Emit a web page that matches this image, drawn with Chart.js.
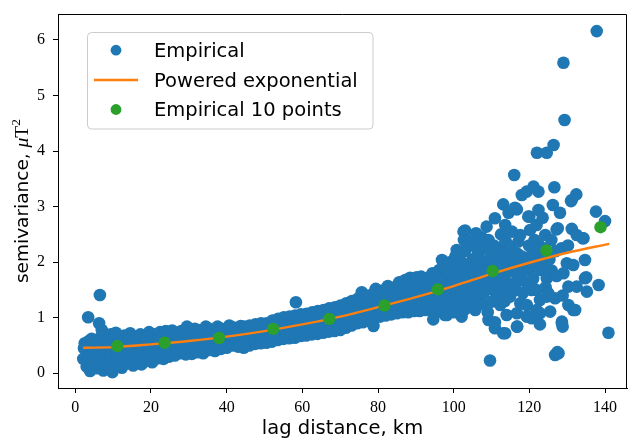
<!DOCTYPE html>
<html>
<head>
<meta charset="utf-8">
<script src="https://cdn.jsdelivr.net/npm/chart.js@4.4.1/dist/chart.umd.min.js"></script>
<style>
  html, body { margin: 0; padding: 0; background: #fff; }
  canvas { display: block; }
</style>
</head>
<body>
<canvas id="variogram" width="628" height="442"></canvas>
<script>
'use strict';
// matplotlib default colours
var cBlue = '#1f77b4';
var cOrange = '#ff7f0e';
var cGreen = '#2ca02c';

// tick labels
var xTickValues = [0, 20, 40, 60, 80, 100, 120, 140];
var yTickValues = [0, 1, 2, 3, 4, 5, 6];

// empirical semivariogram cloud, [lag km, semivariance]
var empirical = [
  [2.1,0.26],[2.3,0.45],[2.5,0.54],
  [3.0,0.12],[3.4,1.01],[3.2,0.35],[3.6,0.58],[3.9,0.04],[3.5,0.48],
  [4.4,0.2],[4.6,0.38],[4.8,0.55],[4.3,0.62],[5.0,0.1],
  [5.6,0.09],[5.9,0.3],[6.1,0.47],[6.3,0.9],[6.5,1.41],[6.2,0.62],[5.8,0.2],
  [7.0,0.78],[7.4,0.05],[7.6,0.25],[7.8,0.42],[7.5,0.58],[7.9,0.68],
  [8.8,0.12],[9.2,0.32],[9.0,0.5],[9.4,0.7],[9.8,0.02],[9.6,0.6],
  [10.6,0.15],[10.9,0.28],[11.2,0.42],[11.0,0.62],[10.7,0.73],[11.4,0.55],
  [12.3,0.1],[12.6,0.22],[12.8,0.38],[12.4,0.5],[12.9,0.68],[13.2,0.6],
  [13.8,0.18],[14.1,0.3],[14.3,0.45],[14.0,0.58],[14.5,0.72],
  [15.3,0.14],[15.6,0.26],[15.8,0.4],[15.4,0.55],[15.9,0.66],
  [17.0,0.18],[17.5,0.16],[17.3,0.32],[17.1,0.48],[17.6,0.6],[17.2,0.7],
  [18.7,0.22],[19.0,0.36],[19.3,0.5],[18.9,0.64],[19.5,0.74],
  [20.3,0.2],[20.6,0.3],[20.9,0.45],[20.4,0.58],[20.8,0.7],
  [21.9,0.27],[22.2,0.38],[22.5,0.52],[22.0,0.64],[22.4,0.74],
  [23.3,0.26],[23.7,0.42],[23.5,0.6],[23.9,0.76],[23.2,0.7],
  [24.8,0.3],[25.1,0.4],[25.4,0.55],[25.0,0.68],[25.6,0.77],
  [26.3,0.32],[26.6,0.46],[26.9,0.6],[26.5,0.72],
  [27.8,0.36],[28.1,0.5],[28.4,0.63],[28.0,0.76],[28.6,0.42],
  [29.2,0.34],[29.5,0.84],[29.7,0.55],[29.4,0.7],
  [30.8,0.35],[31.1,0.47],[31.4,0.6],[31.0,0.74],[31.6,0.8],
  [32.4,0.38],[32.7,0.52],[32.9,0.66],[32.5,0.78],
  [33.8,0.36],[34.1,0.46],[34.3,0.6],[34.0,0.72],[34.5,0.84],
  [35.3,0.42],[35.6,0.55],[35.9,0.68],[35.4,0.8],
  [36.9,0.4],[37.2,0.5],[37.5,0.62],[37.0,0.74],[37.6,0.84],
  [38.5,0.44],[38.8,0.57],[39.0,0.7],[38.6,0.8],
  [40.0,0.46],[40.3,0.56],[40.5,0.68],[40.1,0.8],[40.7,0.86],
  [41.5,0.5],[41.8,0.62],[42.0,0.74],[41.6,0.83],
  [43.0,0.48],[43.3,0.58],[43.5,0.7],[43.1,0.8],[43.7,0.85],
  [44.5,0.46],[44.8,0.62],[45.0,0.74],[44.6,0.84],
  [46.0,0.5],[46.3,0.62],[46.5,0.75],[46.1,0.86],
  [47.5,0.53],[47.8,0.66],[48.0,0.78],[47.6,0.88],
  [49.0,0.54],[49.3,0.64],[49.5,0.77],[49.1,0.9],
  [50.5,0.55],[50.8,0.68],[51.0,0.8],[50.6,0.9],
  [52.0,0.57],[52.3,0.7],[52.5,0.84],[52.1,0.95],
  [53.5,0.6],[53.8,0.72],[54.0,0.86],[53.6,0.98],
  [55.0,0.62],[55.3,0.75],[55.5,0.88],[55.1,1.01],
  [56.5,0.63],[56.8,0.76],[57.0,0.9],[56.6,1.02],
  [58.0,0.64],[58.3,1.28],[58.4,0.8],[58.6,0.93],[58.1,1.04],
  [59.5,0.67],[59.8,0.8],[60.0,0.94],[59.6,1.06],
  [61.0,0.68],[61.3,0.82],[61.5,0.96],[61.1,1.07],
  [62.5,0.7],[62.8,0.84],[63.0,0.98],[62.6,1.1],
  [64.0,0.71],[64.3,0.85],[64.5,1.0],[64.1,1.12],
  [65.5,0.73],[65.8,0.88],[66.0,1.02],[65.6,1.14],
  [67.0,0.75],[67.3,0.9],[67.5,1.05],[67.1,1.17],
  [68.5,0.76],[68.8,0.92],[69.0,1.06],[68.6,1.19],
  [70.0,0.78],[70.3,0.93],[70.5,1.08],[70.1,1.22],
  [71.5,0.82],[71.8,0.96],[72.0,1.12],[71.6,1.26],
  [73.0,0.86],[73.3,1.0],[73.5,1.16],[73.1,1.3],
  [74.5,0.9],[74.8,1.04],[75.0,1.2],[74.6,1.34],
  [76.0,0.92],[76.3,1.06],[76.5,1.22],[76.1,1.36],[75.7,1.46],
  [77.5,0.95],[77.8,1.1],[78.0,1.26],[77.6,1.4],[78.8,0.85],
  [79.0,1.0],[79.3,1.14],[79.5,1.3],[79.1,1.45],[79.4,1.52],
  [80.5,1.02],[80.8,1.18],[81.0,1.34],[80.6,1.48],
  [82.0,1.04],[82.3,1.2],[82.5,1.36],[82.1,1.52],[82.6,1.57],
  [83.5,1.06],[83.8,1.22],[84.0,1.38],[83.6,1.54],
  [85.0,1.08],[85.3,1.24],[85.5,1.4],[85.1,1.56],[85.6,1.64],
  [86.5,1.1],[86.8,1.26],[87.0,1.42],[86.6,1.58],[87.2,1.68],
  [88.0,1.1],[88.3,1.28],[88.5,1.44],[88.1,1.6],[88.5,1.72],
  [89.5,1.12],[89.8,1.3],[90.0,1.46],[89.6,1.62],[90.2,1.73],
  [91.0,1.12],[91.3,1.3],[91.5,1.48],[91.1,1.64],[91.4,1.74],
  [92.5,1.14],[92.8,1.32],[93.0,1.5],[92.6,1.66],[93.2,1.72],
  [94.0,1.14],[94.6,0.97],[94.3,1.34],[94.5,1.52],[94.1,1.68],[94.4,1.8],
  [95.5,1.12],[95.8,1.3],[96.0,1.5],[95.6,1.7],[96.2,1.86],
  [97.0,1.1],[97.7,1.05],[97.3,1.28],[97.5,1.48],[97.1,1.68],[96.9,2.04],[97.4,1.88],
  [98.2,1.05],[98.5,1.22],[98.8,1.42],[99.0,1.62],[98.6,1.82],[98.9,2.0],
  [100.0,1.1],[100.3,1.3],[100.5,1.5],[100.1,1.7],[100.4,1.9],[100.8,2.22],[100.4,2.1],
  [101.5,1.2],[101.8,1.4],[102.0,1.6],[101.6,1.8],[102.1,2.0],[102.1,1.02],
  [103.0,2.57],[102.6,2.55],[103.3,2.4],[102.7,2.4],[103.0,1.15],[103.3,1.35],[103.5,1.55],[103.1,1.75],[103.4,1.95],[103.0,2.2],
  [104.5,1.25],[104.8,1.45],[105.0,1.65],[104.6,1.85],[105.0,2.05],[104.8,2.3],
  [105.9,2.52],[106.1,2.37],[105.7,1.14],[106.0,1.35],[106.3,1.55],[106.5,1.75],[106.1,1.95],[106.4,2.15],
  [107.9,1.44],[107.5,1.25],[107.8,1.62],[108.0,1.82],[107.6,2.02],[108.0,2.25],[107.4,2.45],
  [108.7,2.64],[109.2,0.96],[109.6,0.23],[109.0,1.1],[109.3,1.6],[109.5,1.8],[109.1,2.0],[109.4,2.2],[109.2,2.4],
  [110.1,1.29],[110.5,1.5],[110.9,0.81],[110.9,2.79],[110.8,1.7],[110.4,1.9],[110.7,2.1],[110.6,2.3],[110.9,0.92],
  [112.3,1.23],[112.0,1.42],[112.3,1.62],[112.0,1.82],[111.8,2.04],[112.2,2.26],[112.5,2.5],
  [113.1,3.04],[113.6,2.67],[113.1,0.72],[113.6,0.72],[114.0,1.05],[113.5,1.3],[113.8,1.55],[113.5,1.75],[113.9,1.95],[113.6,2.15],[113.7,2.38],
  [114.5,2.89],[114.9,1.38],[115.2,1.6],[115.0,1.85],[115.3,2.05],[115.1,2.28],[115.4,2.55],
  [116.0,3.57],[116.7,2.95],[116.2,2.98],[116.7,0.84],[116.8,0.84],[116.7,1.08],[117.1,2.37],[116.5,1.5],[116.8,1.75],[116.4,1.95],[116.9,2.15],
  [117.6,2.49],[117.6,1.26],[118.0,3.21],[118.0,1.26],[118.3,1.45],[118.0,1.68],[118.4,1.9],[118.1,2.1],
  [119.3,3.27],[119.3,1.02],[119.3,1.23],[120.0,2.82],[119.7,2.82],[119.6,1.6],[119.8,1.85],[119.5,2.05],[119.9,2.3],
  [121.1,3.36],[120.2,2.58],[120.2,1.02],[120.6,1.5],[120.6,0.99],[121.0,1.7],[121.2,1.95],[120.8,2.15],[121.4,2.4],
  [122.4,3.27],[122.4,2.94],[121.9,2.67],[122.8,1.86],[121.9,1.5],[122.8,1.32],[122.8,1.08],[121.9,1.14],[122.0,3.97],[122.3,2.1],[122.6,2.3],[122.8,0.88],
  [124.2,2.49],[124.6,1.71],[124.6,1.38],[124.6,3.97],[123.8,2.0],[124.0,2.25],[123.5,2.8],[124.3,1.55],
  [125.5,1.11],[125.0,1.44],[126.2,3.03],[126.4,4.11],[126.6,3.35],[125.8,2.4],[125.3,2.05],[125.9,1.85],
  [127.2,2.59],[127.2,1.75],[126.8,1.35],[126.8,0.33],[127.7,0.36],[127.5,2.61],[127.0,2.2],[127.4,0.38],
  [128.1,2.89],[128.6,0.93],[128.8,0.84],[128.6,0.9],[129.0,5.59],[129.3,4.56],[129.0,1.8],[128.5,2.25],[128.8,1.4],
  [129.9,1.98],[130.3,1.56],[130.3,1.23],[130.2,2.3],
  [131.6,1.95],[131.6,1.14],[131.0,3.1],[132.1,1.14],[131.2,3.12],[131.2,2.6],
  [132.4,3.22],[132.5,2.49],[132.5,1.56],[134.1,2.43],[134.7,2.04],[134.7,1.71],[135.0,1.73],[135.2,1.47],[134.3,2.43],
  [137.6,2.91],[137.8,6.16],[138.3,1.59],[140.0,2.74],[140.9,0.73]
];

// fitted powered exponential model
var fitLag = [2.1, 10, 20, 30, 40, 50, 60, 70, 80, 90, 100, 110, 120, 130, 141.1];
var fitGamma = [0.46, 0.47, 0.52, 0.58, 0.66, 0.76, 0.88, 1.02, 1.19, 1.37, 1.57, 1.79, 1.99, 2.17, 2.33];

// binned empirical variogram, 10 points
var binLag = [11.1, 23.6, 38.0, 52.3, 67.1, 81.7, 95.8, 110.3, 124.5, 138.8];
var binGamma = [0.49, 0.55, 0.635, 0.80, 0.98, 1.22, 1.51, 1.84, 2.21, 2.63];

var sansFont = '"DejaVu Sans", sans-serif';
var serifFont = '"Liberation Serif", serif';

function zip(xs, ys) {
  return xs.map(function (x, i) { return {x: x, y: ys[i]}; });
}

// legend drawn inside the axes, top-left, like matplotlib
var innerLegend = {
  id: 'innerLegend',
  afterDraw: function (chart) {
    var ctx = chart.ctx;
    var rowsBase = [56.7, 86.5, 116];
    ctx.save();
    ctx.beginPath();
    ctx.roundRect(87.5, 32.5, 285.5, 96.5, 4);
    ctx.fillStyle = 'rgba(255,255,255,0.8)';
    ctx.fill();
    ctx.strokeStyle = '#cccccc';
    ctx.lineWidth = 1;
    ctx.stroke();
    chart.data.datasets.forEach(function (ds, i) {
      var cy = rowsBase[i] - 6.5;
      if (ds.showLine) {
        ctx.beginPath();
        ctx.moveTo(94, cy);
        ctx.lineTo(138, cy);
        ctx.strokeStyle = ds.borderColor;
        ctx.lineWidth = 2.4;
        ctx.stroke();
      } else {
        ctx.beginPath();
        ctx.arc(116, cy, 5.4, 0, Math.PI * 2);
        ctx.fillStyle = ds.backgroundColor;
        ctx.fill();
      }
      ctx.fillStyle = '#000';
      ctx.font = '19.5px ' + sansFont;
      ctx.textBaseline = 'alphabetic';
      ctx.textAlign = 'left';
      ctx.fillText(ds.label, 154, rowsBase[i]);
    });
    ctx.restore();
  }
};

// top and right spines + y label with math part in serif
var frameAndLabel = {
  id: 'frameAndLabel',
  afterDraw: function (chart) {
    var ctx = chart.ctx;
    var a = chart.chartArea;
    ctx.save();
    ctx.strokeStyle = '#000';
    ctx.lineWidth = 1;
    ctx.beginPath();
    ctx.moveTo(a.left, a.top + 0.5);
    ctx.lineTo(a.right - 0.5, a.top + 0.5);
    ctx.lineTo(a.right - 0.5, a.bottom);
    ctx.stroke();

    var parts = [
      {t: 'semivariance, ', f: '18.5px ' + sansFont, rise: 0},
      {t: 'μ', f: 'italic 19.5px ' + serifFont, rise: 0},
      {t: 'T', f: '19.5px ' + serifFont, rise: 0},
      {t: '2', f: '13.5px ' + serifFont, rise: 8}
    ];
    var total = 0;
    parts.forEach(function (p) { ctx.font = p.f; p.w = ctx.measureText(p.t).width; total += p.w; });
    ctx.translate(28, (a.top + a.bottom) / 2);
    ctx.rotate(-Math.PI / 2);
    ctx.fillStyle = '#000';
    ctx.textBaseline = 'alphabetic';
    ctx.textAlign = 'left';
    var x = -total / 2;
    parts.forEach(function (p) {
      ctx.font = p.f;
      ctx.fillText(p.t, x, -p.rise);
      x += p.w;
    });
    ctx.restore();
  }
};

function makeChart() {
  var ctx = document.getElementById('variogram');
  var chart = new Chart(ctx, {
    type: 'scatter',
    data: {
      datasets: [{
        label: 'Empirical',
        data: empirical.map(function (p) { return {x: p[0], y: p[1]}; }),
        backgroundColor: cBlue,
        borderWidth: 0,
        pointRadius: 6.3,
        order: 3
      }, {
        label: 'Powered exponential',
        data: zip(fitLag, fitGamma),
        showLine: true,
        borderColor: cOrange,
        borderWidth: 2.4,
        cubicInterpolationMode: 'monotone',
        pointRadius: 0,
        order: 2
      }, {
        label: 'Empirical 10 points',
        data: zip(binLag, binGamma),
        backgroundColor: cGreen,
        borderWidth: 0,
        pointRadius: 6.2,
        order: 1
      }]
    },
    options: {
      responsive: false,
      animation: false,
      devicePixelRatio: 1,
      events: [],
      layout: {autoPadding: false, padding: {top: 14, right: 1, left: 0, bottom: 0}},
      plugins: {legend: {display: false}, tooltip: {enabled: false}},
      scales: {
        x: {
          type: 'linear',
          min: -4.57,
          max: 145.8,
          afterBuildTicks: function (s) { s.ticks = xTickValues.map(function (v) { return {value: v}; }); },
          afterFit: function (s) { s.height = 54; s.paddingLeft = 0; s.paddingRight = 0; },
          ticks: {color: '#000', padding: 5, font: {family: serifFont, size: 16}},
          grid: {drawOnChartArea: false, tickLength: 5, color: '#000', tickWidth: 1},
          border: {display: true, color: '#000', width: 1},
          title: {display: true, text: 'lag distance, km', color: '#000',
                  font: {family: sansFont, size: 19.5}, padding: {top: 0, bottom: 1}}
        },
        y: {
          type: 'linear',
          min: -0.265,
          max: 6.468,
          afterBuildTicks: function (s) { s.ticks = yTickValues.map(function (v) { return {value: v}; }); },
          afterFit: function (s) { s.width = 58; s.paddingTop = 0; s.paddingBottom = 0; },
          ticks: {color: '#000', padding: 8, font: {family: serifFont, size: 16}},
          grid: {drawOnChartArea: false, tickLength: 5, color: '#000', tickWidth: 1},
          border: {display: true, color: '#000', width: 1}
        }
      }
    },
    plugins: [frameAndLabel, innerLegend]
  });
  return chart;
}
makeChart();
</script>
</body>
</html>
